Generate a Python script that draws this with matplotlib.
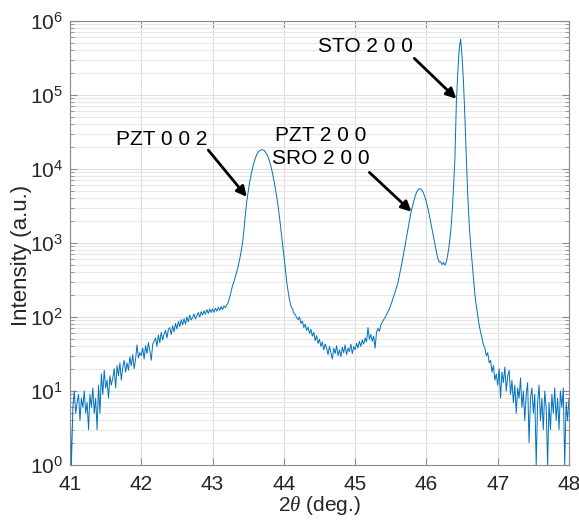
import matplotlib
matplotlib.use("Agg")
import matplotlib.pyplot as plt
import numpy as np

plt.rcParams['font.family'] = ['Liberation Sans', 'DejaVu Sans']
plt.rcParams['mathtext.fontset'] = 'custom'
plt.rcParams['mathtext.rm'] = 'Liberation Sans'
plt.rcParams['mathtext.it'] = 'Liberation Serif:italic'

# 2theta scan, 0.02 deg steps from 41 to 48
two_theta = np.round(np.arange(41.0, 48.001, 0.02), 2)

# intensity (counts), one row per 0.2 deg
intensity = np.array([
    8, 1, 6, 10, 5, 7, 9, 4, 8, 6,                                       # 41.0
    10, 5, 7, 3, 9, 6, 11, 5, 8, 3,                                      # 41.2
    12, 5, 17, 9, 19, 11, 14, 8, 16, 12,                                 # 41.4
    15, 20, 11, 22, 16, 24, 14, 21, 26, 18,                              # 41.6
    24, 19, 29, 22, 31, 20, 27, 42, 28, 33,                              # 41.8
    30, 38, 27, 41, 32, 45, 35, 26, 43, 47,                              # 42.0
    52, 40, 57, 45, 62, 49, 58, 66, 52, 68,                              # 42.2
    72, 58, 76, 63, 82, 69, 87, 74, 92, 78,                              # 42.4
    95, 80, 100, 86, 106, 91, 98, 110, 94, 104,                          # 42.6
    115, 100, 118, 106, 121, 109, 126, 112, 128, 115,                    # 42.8
    129, 116, 131, 120, 135, 123, 138, 126, 141, 134,                    # 43.0
    145, 158, 185, 220, 265, 300, 350, 410, 490, 600,                    # 43.2
    760, 1000, 1500, 2400, 3700, 5000, 6600, 8300, 10200, 12100,         # 43.4
    14000, 15700, 16900, 17700, 18100, 18200, 17900, 17100, 15900, 14400,  # 43.6
    12600, 10700, 8900, 7100, 5500, 4200, 3100, 2200, 1500, 1000,        # 43.8
    680, 450, 300, 220, 170, 140, 128, 112, 108, 98,                     # 44.0
    92, 100, 82, 88, 72, 80, 66, 73, 60, 68,                             # 44.2
    55, 62, 48, 56, 44, 50, 40, 46, 36, 43,                              # 44.4
    38, 31, 40, 33, 27, 38, 32, 41, 30, 36,                              # 44.6
    29, 39, 33, 42, 31, 38, 34, 43, 32, 40,                              # 44.8
    36, 44, 38, 47, 40, 49, 43, 52, 46, 72,                              # 45.0
    50, 58, 47, 55, 38, 62, 70, 64, 78, 85,                              # 45.2
    92, 98, 108, 118, 128, 145, 165, 190, 215, 250,                      # 45.4
    290, 360, 450, 560, 720, 930, 1200, 1550, 2000, 2500,                # 45.6
    3000, 3600, 4200, 4800, 5200, 5400, 5350, 5100, 4700, 4150,          # 45.8
    3550, 2950, 2400, 1900, 1500, 1200, 950, 760, 620, 550,              # 46.0
    560, 510, 545, 500, 560, 700, 950, 1400, 2500, 5500,                 # 46.2
    14000, 80000, 200000, 420000, 570000, 330000, 150000, 50000, 14000, 4500,  # 46.4
    1800, 950, 560, 330, 200, 140, 105, 78, 62, 52,                      # 46.6
    42, 38, 30, 33, 24, 26, 18, 22, 14, 17,                              # 46.8
    12, 20, 8, 18, 13, 21, 10, 16, 19, 9,                                # 47.0
    14, 7, 12, 5, 11, 8, 15, 6, 10, 4,                                   # 47.2
    9, 13, 2, 8, 11, 5, 9, 1, 7, 12,                                     # 47.4
    4, 8, 3, 10, 6, 1, 7, 3, 9, 5,                                       # 47.6
    11, 4, 8, 3, 10, 6, 11, 1, 7, 4,                                     # 47.8
    8,                                                                   # 48.0
], dtype=float)

# peak labels: text, text position, arrow start, arrow tip (data coords)
peak_labels = ['PZT 0 0 2', 'PZT 2 0 0\nSRO 2 0 0', 'STO 2 0 0']
label_pos = [(42.28, 25400), (44.52, 19900), (45.14, 459000)]
arrow_from = [(42.94, 18000), (45.20, 9000), (45.83, 313000)]
arrow_to = [(43.48, 4200), (45.79, 2650), (46.42, 89000)]

fig = plt.figure(figsize=(5.79, 5.2), dpi=100)
ax = fig.add_axes([0.1209, 0.1058, 0.8618, 0.8538])

ax.plot(two_theta, intensity, color='#0072BD', lw=0.7)

ax.set_yscale('log')
ax.set_xlim(41, 48)
ax.set_ylim(1, 1e6)
ax.set_xticks(np.arange(41, 49, 1))

# MATLAB-like box, grid and inward ticks
ax.grid(True, which='major', color='#dedede', lw=0.8)
ax.grid(True, which='minor', axis='y', color='#e8e8e8', lw=0.8)
ax.set_axisbelow(True)
for s in ax.spines.values():
    s.set_color('#8a8a8a')
    s.set_linewidth(0.8)
ax.tick_params(which='both', direction='in', top=True, right=True,
               colors='#8a8a8a', labelcolor='#262626', labelsize=15)
ax.tick_params(which='major', length=5, width=0.8)
ax.tick_params(which='minor', length=3, width=0.6)
ax.tick_params(axis='x', pad=7)
ax.tick_params(axis='y', pad=5)

ax.set_xlabel(r'2$\theta$ (deg.)', fontsize=15, color='#262626')
ax.set_ylabel('Intensity (a.u.)', fontsize=16, color='#262626')
ax.xaxis.set_label_coords(0.5, -0.066)
ax.yaxis.set_label_coords(-0.076, 0.473)

for txt, pos, a0, a1 in zip(peak_labels, label_pos, arrow_from, arrow_to):
    ax.text(pos[0], pos[1], txt, fontsize=15, ha='center', va='center',
            linespacing=1.25)
    ax.annotate('', xy=a1, xytext=a0,
                arrowprops=dict(arrowstyle='-|>,head_length=0.6,head_width=0.3',
                                lw=2, color='k', shrinkA=0, shrinkB=0))

fig.savefig('out.png', dpi=100)
